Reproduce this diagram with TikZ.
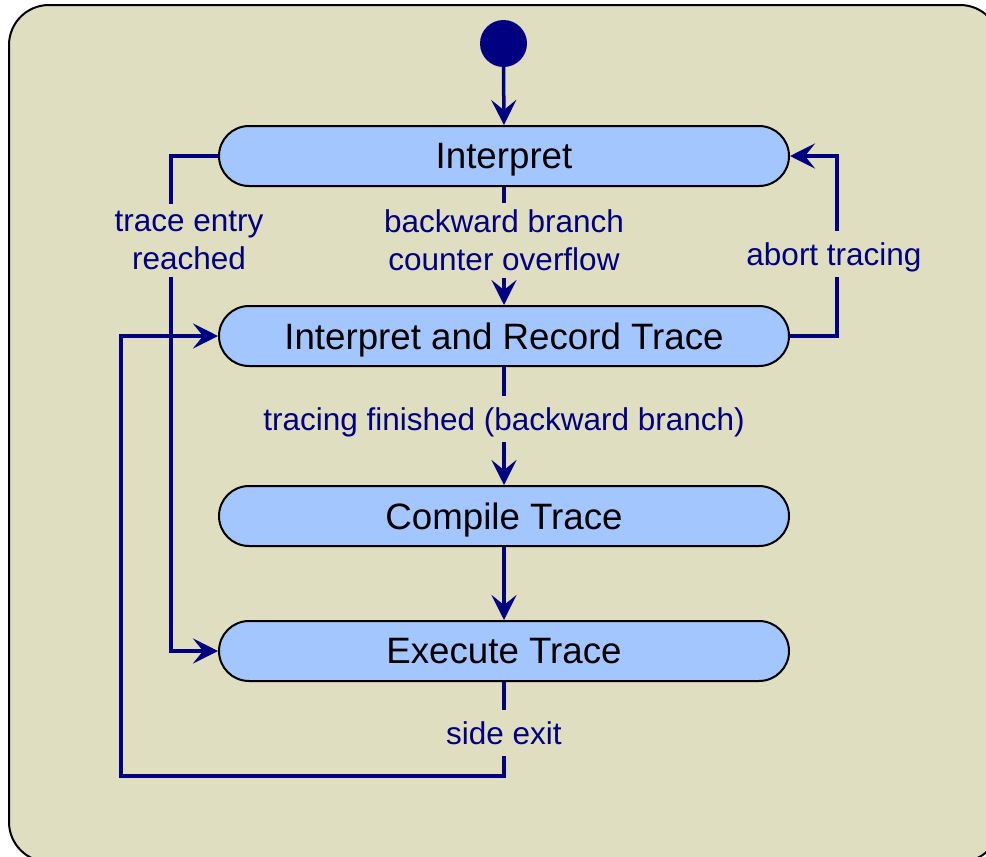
\documentclass[tikz,border=0pt]{standalone}
\usepackage{fontspec}
\setmainfont{Liberation Sans}
\usetikzlibrary{arrows.meta}
\definecolor{panelbg}{HTML}{DFDEC0}
\definecolor{statefill}{HTML}{A3C6FF}
\definecolor{flow}{HTML}{000080}
\begin{document}
\begin{tikzpicture}[x=1pt,y=-1pt,
  state/.style={draw=black, line width=2pt, fill=statefill,
    rounded corners=30pt, minimum width=570pt, minimum height=60pt,
    inner sep=0pt, text depth=0pt, font=\fontsize{36.7}{40}\selectfont},
  conn/.style={draw=flow, line width=3.5pt,
    -{Stealth[length=25pt,width=25pt,inset=10pt]}},
  lbl/.style={fill=panelbg, text=flow, align=center, inner xsep=4pt,
    inner ysep=11.5pt, text depth=0pt, font=\fontsize{31.5}{38}\selectfont},
  lbltwo/.style={lbl, inner ysep=7pt}]
\useasboundingbox (0,0) rectangle (986,857);
% panel
\begin{scope}
  \clip (0,0) rectangle (986,857);
  \draw[fill=panelbg, line width=2pt, rounded corners=40pt]
    (9,5) rectangle (1000,862);
\end{scope}

% initial state and states
\node[circle, fill=flow, minimum size=47pt, inner sep=0pt] (start) at (503.5,43.5) {};
\node[state] (interp)  at (504,156) {Interpret};
\node[state] (record)  at (504,336) {Interpret and Record Trace};
\node[state] (compile) at (504,516) {Compile Trace};
\node[state] (exec)    at (504,651) {Execute Trace};

% turning points of the routed transitions
\coordinate (abortturn) at (837,336);
\coordinate (entryturn) at (171,156);
\coordinate (exitturn)  at (121,776);

% transitions
\draw[conn] (start.south) -- (interp.north);
\draw[conn] (interp.south) -- (record.north);
\draw[conn] (record.south) -- (compile.north);
\draw[conn] (compile.south) -- (exec.north);
\draw[conn] (record.east) -- (abortturn) |- (interp.east);
\draw[conn] (interp.west) -- (entryturn) |- (exec.west);
\draw[conn] (exec.south) |- (exitturn) |- (record.west);

% transition labels
\node[lbltwo] (lentry)  at (189,240.5) {trace entry\\reached};
\node[lbltwo] (lbranch) at (504,240.5) {backward branch\\counter overflow};
\node[lbl] (labort)  at (834,254) {abort tracing};
\node[lbl] (lfinish) at (504,419) {tracing finished (backward branch)};
\node[lbl] (lexit)   at (504,733) {side exit};
\end{tikzpicture}
\end{document}
